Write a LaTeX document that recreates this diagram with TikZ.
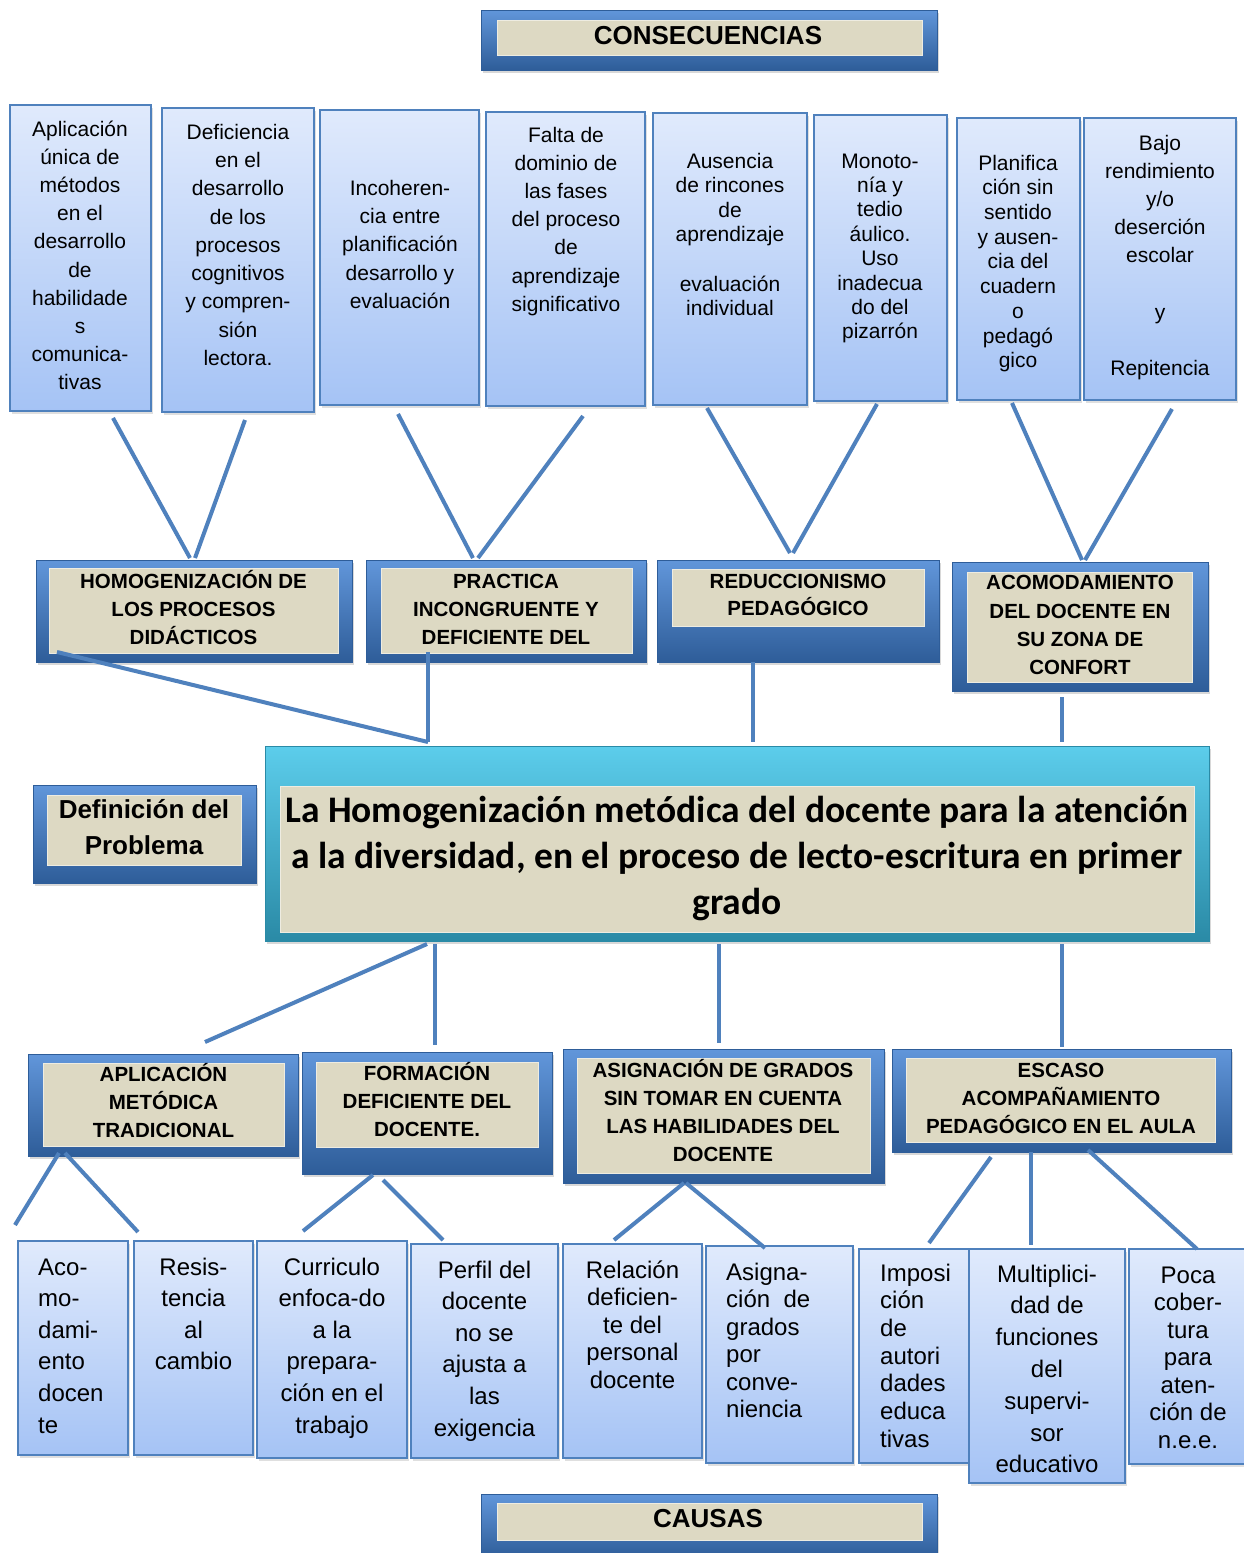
\documentclass[tikz,border=0pt]{standalone}
\usepackage{fontspec}
\setmainfont{Liberation Sans}
\newfontfamily\calib{Carlito}
\usetikzlibrary{shadows}

\definecolor{lnk}{HTML}{4F81BD}
\definecolor{beige}{HTML}{DDD9C3}
\definecolor{frtop}{HTML}{6196DA}
\definecolor{frbot}{HTML}{2E5D99}
\definecolor{lbtop}{HTML}{E0EAFC}
\definecolor{lbbot}{HTML}{A5C3F5}
\definecolor{cytop}{HTML}{5CCDEB}
\definecolor{cymid}{HTML}{3BB8DD}
\definecolor{cybot}{HTML}{2A8AA6}

\tikzset{
  frame/.style={draw=frbot, line width=0.8pt, top color=frtop, bottom color=frbot, inner sep=0pt,
    drop shadow={shadow xshift=2pt, shadow yshift=-3pt, opacity=0.3}},
  central/.style={draw=cybot, line width=0.8pt, top color=cytop, middle color=cymid, bottom color=cybot, inner sep=0pt,
    drop shadow={shadow xshift=2pt, shadow yshift=-3pt, opacity=0.3}},
  beigebox/.style={fill=beige, draw=beige!50!white, line width=0.6pt, inner sep=0pt},
  lightbox/.style={draw=lnk, line width=1.6pt, top color=lbtop, bottom color=lbbot, inner sep=0pt,
    drop shadow={shadow xshift=2pt, shadow yshift=-3pt, opacity=0.25}},
  link/.style={draw=lnk, line width=4pt},
  txt/.style={inner sep=0pt, anchor=north, align=center, text=black},
  txtl/.style={inner sep=0pt, anchor=north west, align=left, text=black},
}

% name, style, x1, y1, x2, y2
\newcommand{\bx}[6]{\node[#2, minimum width={#5-#3}, minimum height={#6-#4}] (#1) at ({(#3+#5)/2},{(#4+#6)/2}) {};}
% style, name, x, first-line centre y, size, leading, font extra, text
\newcommand{\tx}[8]{\node[#1, font={\fontsize{#5}{#6}\selectfont#7}] (#2) at ({#3},{#4-0.67*#5}) {\rule{0pt}{#5pt}#8};}

\begin{document}
\begin{tikzpicture}[x=1pt,y=-1pt]
\useasboundingbox (0,0) rectangle (1243,1553);
\fill[white] (0,0) rectangle (1243,1553);

% ---------- top header ----------
\bx{hcons}{frame}{481}{10}{937}{70}
\bx{hconsin}{beigebox}{497}{20}{922}{55}
\tx{txt}{thcons}{708}{36}{26}{30}{\bfseries}{CONSECUENCIAS}

% ---------- consequences ----------
\bx{L1}{lightbox}{10}{105}{151}{411}
\bx{L2}{lightbox}{162}{108}{314}{412}
\bx{L3}{lightbox}{320}{110}{479}{405}
\bx{L4}{lightbox}{486}{112}{645}{406}
\bx{L5}{lightbox}{653}{113}{807}{405}
\bx{L6}{lightbox}{814}{115}{947}{401}
\bx{L7}{lightbox}{957}{118}{1080}{400}
\bx{L8}{lightbox}{1084}{118}{1236}{400}

\tx{txt}{t1}{80}{129}{21}{28.2}{}{Aplicación\\única de\\métodos\\en el\\desarrollo\\de\\habilidade\\s\\comunica-\\tivas}
\tx{txt}{t2}{238}{132}{21}{28.3}{}{Deficiencia\\en el\\desarrollo\\de los\\procesos\\cognitivos\\y compren-\\sión\\lectora.}
\tx{txt}{t3}{400}{188}{21}{28.3}{}{Incoheren-\\cia entre\\planificación\\desarrollo y\\evaluación}
\tx{txt}{t4}{566}{135}{21}{28.2}{}{Falta de\\dominio de\\las fases\\del proceso\\de\\aprendizaje\\significativo}
\tx{txt}{t5}{730}{161}{21}{24.6}{}{Ausencia\\de rincones\\de\\aprendizaje\\[24.6pt]evaluación\\individual}
\tx{txt}{t6}{880}{161}{21}{24.4}{}{Monoto-\\nía y\\tedio\\áulico.\\Uso\\inadecua\\do del\\pizarrón}
\tx{txt}{t7}{1018}{163}{21}{24.7}{}{Planifica\\ción sin\\sentido\\y ausen-\\cia del\\cuadern\\o\\pedagó\\gico}
\tx{txt}{t8}{1160}{143}{21}{28.2}{}{Bajo\\rendimiento\\y/o\\deserción\\escolar\\[28.2pt]y\\[28.2pt]Repitencia}

% ---------- consequence groups ----------
\bx{A}{frame}{36}{560}{352}{662}
\bx{Ain}{beigebox}{49}{568}{338}{653}
\bx{B}{frame}{366}{560}{646}{662}
\bx{Bin}{beigebox}{381}{568}{632}{653}
\bx{C}{frame}{657}{560}{939}{662}
\bx{Cin}{beigebox}{672}{569}{924}{626}
\bx{D}{frame}{952}{562}{1208}{691}
\bx{Din}{beigebox}{967}{572}{1192}{682}

% ---------- problem ----------
\bx{DEF}{frame}{33}{785}{256}{883}
\bx{DEFin}{beigebox}{47}{795}{241}{865}
\bx{CEN}{central}{265}{746}{1209}{941}
\bx{CENin}{beigebox}{280}{786}{1194}{932}

% ---------- cause groups ----------
\bx{E}{frame}{28}{1054}{298}{1156}
\bx{Ein}{beigebox}{43}{1063}{284}{1146}
\bx{F}{frame}{302}{1052}{552}{1174}
\bx{Fin}{beigebox}{316}{1062}{538}{1147}
\bx{G}{frame}{563}{1049}{884}{1183}
\bx{Gin}{beigebox}{577}{1058}{870}{1173}
\bx{H}{frame}{892}{1049}{1231}{1152}
\bx{Hin}{beigebox}{906}{1058}{1215}{1142}

% ---------- causes ----------
\bx{b1}{lightbox}{18}{1241}{128}{1455}
\bx{b2}{lightbox}{134}{1241}{253}{1455}
\bx{b3}{lightbox}{257}{1241}{407}{1458}
\bx{b4}{lightbox}{411}{1244}{558}{1458}
\bx{b5}{lightbox}{563}{1244}{702}{1458}
\bx{b6}{lightbox}{706}{1246}{853}{1463}
\bx{b7}{lightbox}{859}{1249}{975}{1463}
\bx{b8}{lightbox}{969}{1249}{1125}{1483}
\bx{b9}{lightbox}{1129}{1249}{1246}{1464}

% ---------- bottom header ----------
\bx{hcau}{frame}{481}{1494}{937}{1558}
\bx{hcauin}{beigebox}{497}{1503}{922}{1540}
\tx{txt}{thcau}{708}{1519}{26}{30}{\bfseries}{CAUSAS}

% ---------- connector end points ----------
\coordinate (p1a) at (113,418); \coordinate (q1a) at (190,558);
\coordinate (p1b) at (245,420); \coordinate (q1b) at (195,558);
\coordinate (p2a) at (398,414); \coordinate (q2a) at (473,558);
\coordinate (p2b) at (583,416); \coordinate (q2b) at (478,558);
\coordinate (p3a) at (707,408); \coordinate (q3a) at (790,553);
\coordinate (p3b) at (877,404); \coordinate (q3b) at (793,553);
\coordinate (p4a) at (1012,403); \coordinate (q4a) at (1082,560);
\coordinate (p4b) at (1172,409); \coordinate (q4b) at (1085,560);

\coordinate (m1a) at (57,652);   \coordinate (m1b) at (428,742);
\coordinate (m2a) at (428,652);  \coordinate (m2b) at (428,742);
\coordinate (m3a) at (753,662);  \coordinate (m3b) at (753,742);
\coordinate (m4a) at (1062,697); \coordinate (m4b) at (1062,742);

\coordinate (n1a) at (427,944);  \coordinate (n1b) at (205,1042);
\coordinate (n2a) at (435,944);  \coordinate (n2b) at (435,1045);
\coordinate (n3a) at (719,944);  \coordinate (n3b) at (719,1043);
\coordinate (n4a) at (1062,944); \coordinate (n4b) at (1062,1047);

\coordinate (r1a) at (59,1153);  \coordinate (r1b) at (15,1225);
\coordinate (r2a) at (65,1153);  \coordinate (r2b) at (138,1232);
\coordinate (r3a) at (373,1175); \coordinate (r3b) at (303,1231);
\coordinate (r4a) at (383,1180); \coordinate (r4b) at (443,1240);
\coordinate (r5a) at (684,1183); \coordinate (r5b) at (614,1240);
\coordinate (r6a) at (686,1183); \coordinate (r6b) at (765,1248);
\coordinate (r7a) at (991,1157); \coordinate (r7b) at (929,1243);
\coordinate (r8a) at (1031,1152); \coordinate (r8b) at (1031,1245);
\coordinate (r9a) at (1088,1150); \coordinate (r9b) at (1197,1249);

\foreach \s/\e in {p1a/q1a,p1b/q1b,p2a/q2a,p2b/q2b,p3a/q3a,p3b/q3b,p4a/q4a,p4b/q4b,
  m1a/m1b,m2a/m2b,m3a/m3b,m4a/m4b,n1a/n1b,n2a/n2b,n3a/n3b,n4a/n4b,
  r1a/r1b,r2a/r2b,r3a/r3b,r4a/r4b,r5a/r5b,r6a/r6b,r7a/r7b,r8a/r8b,r9a/r9b}
  \draw[link] (\s) -- (\e);

% ---------- texts ----------
\tx{txt}{tA}{193.5}{582}{20.5}{28}{\bfseries}{HOMOGENIZACIÓN DE\\LOS PROCESOS\\DIDÁCTICOS}
\tx{txt}{tB}{506}{582}{20.5}{28}{\bfseries}{PRACTICA\\INCONGRUENTE Y\\DEFICIENTE DEL}
\tx{txt}{tCC}{798}{582}{20.5}{27}{\bfseries}{REDUCCIONISMO\\PEDAGÓGICO}
\tx{txt}{tD}{1080}{583}{20.5}{28.3}{\bfseries}{ACOMODAMIENTO\\DEL DOCENTE EN\\SU ZONA DE\\CONFORT}

\tx{txt}{tDEF}{144}{810}{26}{36}{\bfseries}{Definición del\\Problema}
\tx{txt}{tCEN}{737}{810}{37.5}{46}{\calib\bfseries}{La Homogenización metódica del docente para la atención\\a la diversidad, en el proceso de lecto-escritura en primer\\grado}

\tx{txt}{tE}{163.5}{1075}{20.5}{28}{\bfseries}{APLICACIÓN\\METÓDICA\\TRADICIONAL}
\tx{txt}{tF}{427}{1074}{20.5}{28}{\bfseries}{FORMACIÓN\\DEFICIENTE DEL\\DOCENTE.}
\tx{txt}{tG}{723}{1071}{20.5}{27.7}{\bfseries}{ASIGNACIÓN DE GRADOS\\SIN TOMAR EN CUENTA\\LAS HABILIDADES DEL\\DOCENTE}
\tx{txt}{tH}{1061}{1071}{20.5}{28}{\bfseries}{ESCASO\\ACOMPAÑAMIENTO\\PEDAGÓGICO EN EL AULA}

\tx{txtl}{tb1}{38}{1267}{24}{31.6}{}{Aco-\\mo-\\dami-\\ento\\docen\\te}
\tx{txt}{tb2}{193.5}{1267}{24}{31.6}{}{Resis-\\tencia\\al\\cambio}
\tx{txt}{tb3}{332}{1267}{24}{31.6}{}{Curriculo\\enfoca-do\\a la\\prepara-\\ción en el\\trabajo}
\tx{txt}{tb4}{484.5}{1270}{24}{31.6}{}{Perfil del\\docente\\no se\\ajusta a\\las\\exigencia}
\tx{txt}{tb5}{632.5}{1270}{24}{27.5}{}{Relación\\deficien-\\te del\\personal\\docente}
\tx{txtl}{tb6}{726}{1272}{24}{27.5}{}{Asigna-\\ción~~de\\grados\\por\\conve-\\niencia}
\tx{txtl}{tb7}{880}{1273}{24}{27.7}{}{Imposi\\ción\\de\\autori\\dades\\educa\\tivas}
\tx{txt}{tb8}{1047}{1274}{24}{31.8}{}{Multiplici-\\dad de\\funciones\\del\\supervi-\\sor\\educativo}
\tx{txt}{tb9}{1188}{1275}{24}{27.5}{}{Poca\\cober-\\tura\\para\\aten-\\ción de\\n.e.e.}
\end{tikzpicture}
\end{document}
